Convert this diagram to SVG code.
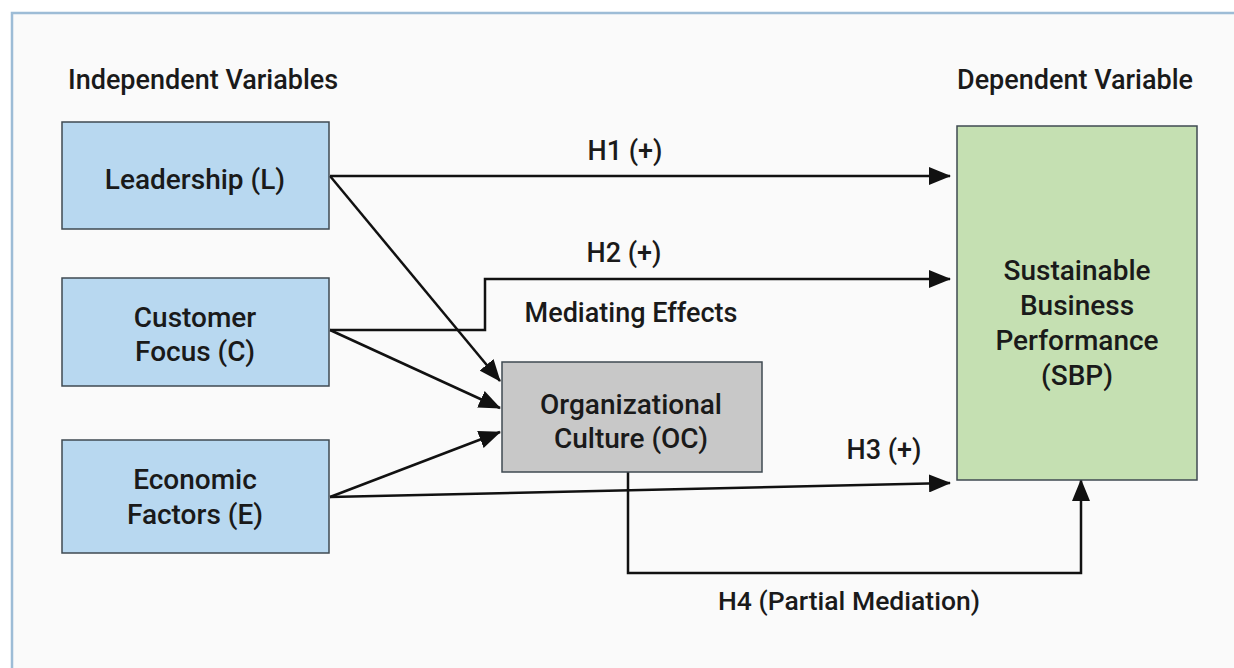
<svg xmlns="http://www.w3.org/2000/svg" width="1234" height="668" viewBox="0 0 1234 668">
<style>
text{font-family:Roboto,"Liberation Sans",sans-serif;font-weight:500;fill:#1a1a1a;font-size:28px;text-anchor:middle}
.hdr{text-anchor:start;font-size:27px}
.lbl{font-size:27px}
.box{stroke:#3f4a52;stroke-width:1.5}
.ind{fill:#b8d8f0}
.con{fill:none;stroke:#111;stroke-width:2.5}
</style>
<defs>
<marker id="a" viewBox="0 0 22 18" refX="21" refY="9" markerWidth="22" markerHeight="18" markerUnits="userSpaceOnUse" orient="auto">
<path d="M0,0 L22,9 L0,18 z" fill="#111"/>
</marker>
</defs>
<rect x="0" y="0" width="1234" height="668" fill="#ffffff"/>
<rect x="12" y="13" width="1240" height="680" fill="#fafafa" stroke="#9dbcd6" stroke-width="2.5"/>
<text class="hdr" x="68" y="89">Independent Variables</text>
<text class="hdr" x="957" y="89">Dependent Variable</text>
<g id="connectors">
<path class="con" d="M330,176 L950,176" marker-end="url(#a)"/>
<path class="con" d="M330,330 L485,330 L485,279 L950,279" marker-end="url(#a)"/>
<path class="con" d="M330,176 L500,381" marker-end="url(#a)"/>
<path class="con" d="M330,330 L500,408" marker-end="url(#a)"/>
<path class="con" d="M330,497 L500,432" marker-end="url(#a)"/>
<path class="con" d="M330,497 L950,483" marker-end="url(#a)"/>
<path class="con" d="M628,472 L628,573 L1081,573 L1081,480" marker-end="url(#a)"/>
<text class="lbl" x="625" y="160">H1 (+)</text>
<text class="lbl" x="624" y="262">H2 (+)</text>
<text class="lbl" x="631" y="322">Mediating Effects</text>
<text class="lbl" x="884" y="459">H3 (+)</text>
<text class="lbl" x="849" y="610" style="font-size:26.5px">H4 (Partial Mediation)</text>
</g>
<g id="leadership">
<rect class="box ind" x="62" y="122" width="267" height="107"/>
<text x="195" y="189">Leadership (L)</text>
</g>
<g id="customer">
<rect class="box ind" x="62" y="278" width="267" height="108"/>
<text x="195" y="327">Customer</text>
<text x="195" y="361">Focus (C)</text>
</g>
<g id="economic">
<rect class="box ind" x="62" y="440" width="267" height="113"/>
<text x="195" y="489">Economic</text>
<text x="195" y="524">Factors (E)</text>
</g>
<g id="oc">
<rect class="box" x="502" y="362" width="260" height="110" fill="#c8c8c8"/>
<text x="631" y="414">Organizational</text>
<text x="631" y="448">Culture (OC)</text>
</g>
<g id="sbp">
<rect class="box" x="957" y="126" width="240" height="354" fill="#c5e0b2"/>
<text x="1077" y="280">Sustainable</text>
<text x="1077" y="315">Business</text>
<text x="1077" y="350">Performance</text>
<text x="1077" y="385">(SBP)</text>
</g>
</svg>
